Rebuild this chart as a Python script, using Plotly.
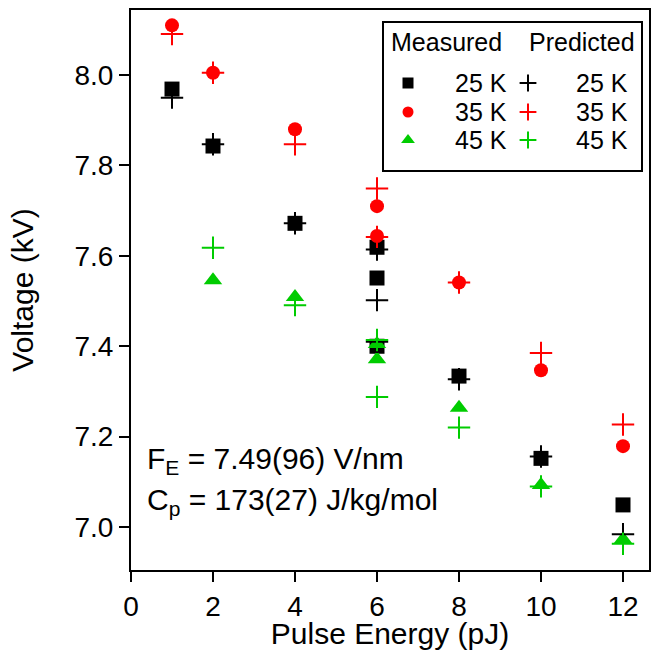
import plotly.graph_objects as go

# ---------------- data ----------------
x_meas_25 = [1, 2, 4, 6, 6, 6, 8, 10, 12]
y_meas_25 = [7.969, 7.843, 7.672, 7.619, 7.551, 7.400, 7.334, 7.152, 7.049]
x_pred_25 = [1, 2, 4, 6, 6, 6, 8, 10, 12]
y_pred_25 = [7.950, 7.847, 7.672, 7.614, 7.502, 7.410, 7.327, 7.156, 6.984]

x_meas_35 = [1, 2, 4, 6, 6, 8, 10, 12]
y_meas_35 = [8.110, 8.005, 7.880, 7.710, 7.644, 7.541, 7.347, 7.179]
x_pred_35 = [1, 2, 4, 6, 6, 8, 10, 12]
y_pred_35 = [8.091, 8.005, 7.847, 7.749, 7.642, 7.541, 7.385, 7.227]

x_meas_45 = [2, 4, 6, 6, 8, 10, 12]
y_meas_45 = [7.546, 7.509, 7.405, 7.371, 7.264, 7.093, 6.973]
x_pred_45 = [2, 4, 6, 6, 8, 10, 12]
y_pred_45 = [7.618, 7.491, 7.414, 7.288, 7.220, 7.090, 6.963]

x_ticks = [0, 2, 4, 6, 8, 10, 12]
y_ticks = [7.0, 7.2, 7.4, 7.6, 7.8, 8.0]
series_labels = ["25 K", "35 K", "45 K"]
fit_lines = ["F<sub>E</sub> = 7.49(96) V/nm", "C<sub>p</sub> = 173(27) J/kg/mol"]

# ---------------- style ----------------
FONT = "Liberation Sans, Arial, sans-serif"
BLACK, RED, GREEN = "#000000", "#FF0000", "#00CC00"
colors = [BLACK, RED, GREEN]
meas_symbols = ["square", "circle", "triangle-up"]
meas_sizes = [15, 14, 16]
PLUS_SIZE = 16

fig = go.Figure()

meas = [(x_meas_25, y_meas_25), (x_meas_35, y_meas_35), (x_meas_45, y_meas_45)]
pred = [(x_pred_25, y_pred_25), (x_pred_35, y_pred_35), (x_pred_45, y_pred_45)]

for (xs, ys), c, s, sz in zip(meas, colors, meas_symbols, meas_sizes):
    fig.add_trace(go.Scatter(x=xs, y=ys, mode="markers",
                             marker=dict(symbol=s, size=sz, color=c, line=dict(width=0)),
                             showlegend=False))
for (xs, ys), c in zip(pred, colors):
    fig.add_trace(go.Scatter(x=xs, y=ys, mode="markers",
                             marker=dict(symbol="cross-thin", size=PLUS_SIZE,
                                         line=dict(width=2, color=c)),
                             showlegend=False))

# ---------------- custom legend (pixel-like overlay axes) ----------------
L, R, T, B = 131, 649, 10, 570
leg_rows_y = [83, 112, 140]
leg_meas_x, leg_text1_x, leg_pred_x, leg_text2_x = 408, 453, 528, 574
leg_sizes = [11, 11, 12]
for i in range(3):
    fig.add_trace(go.Scatter(x=[leg_meas_x], y=[leg_rows_y[i]], xaxis="x2", yaxis="y2",
                             mode="markers",
                             marker=dict(symbol=meas_symbols[i], size=leg_sizes[i],
                                         color=colors[i], line=dict(width=0)),
                             showlegend=False, hoverinfo="skip"))
    fig.add_trace(go.Scatter(x=[leg_pred_x], y=[leg_rows_y[i]], xaxis="x2", yaxis="y2",
                             mode="markers",
                             marker=dict(symbol="cross-thin", size=12,
                                         line=dict(width=2, color=colors[i])),
                             showlegend=False, hoverinfo="skip"))

annotations = []
leg_font = dict(family=FONT, size=25, color="black")
annotations.append(dict(x=389, y=42, xref="x2", yref="y2", text="Measured",
                        showarrow=False, xanchor="left", yanchor="middle", font=leg_font))
annotations.append(dict(x=527, y=42, xref="x2", yref="y2", text="Predicted",
                        showarrow=False, xanchor="left", yanchor="middle", font=leg_font))
for i in range(3):
    for xx in (leg_text1_x, leg_text2_x):
        annotations.append(dict(x=xx, y=leg_rows_y[i], xref="x2", yref="y2",
                                text=series_labels[i], showarrow=False,
                                xanchor="left", yanchor="middle", font=leg_font))
fit_y = [460, 501]
for t, yy in zip(fit_lines, fit_y):
    annotations.append(dict(x=145, y=yy, xref="x2", yref="y2", text=t, showarrow=False,
                            xanchor="left", yanchor="middle",
                            font=dict(family=FONT, size=30, color="black")))

shapes = [dict(type="rect", xref="x2", yref="y2", x0=383, x1=642, y0=22, y1=171,
               line=dict(color="black", width=2), fillcolor="rgba(0,0,0,0)", layer="above")]

axis_common = dict(showline=True, linewidth=2, linecolor="black", mirror=True,
                   ticks="outside", ticklen=10, tickwidth=2, tickcolor="black",
                   showgrid=False, zeroline=False, automargin=False,
                   tickfont=dict(family=FONT, size=28, color="black"))

fig.update_layout(
    width=654, height=650,
    margin=dict(l=L, r=654 - R, t=T, b=650 - B),
    plot_bgcolor="white", paper_bgcolor="white",
    showlegend=False,
    xaxis=dict(range=[0, (R - L) / 41.0], tickvals=x_ticks,
               title=dict(text="Pulse Energy (pJ)", font=dict(family=FONT, size=30, color="black"),
                          standoff=6),
               **axis_common),
    yaxis=dict(range=[6.905, 6.905 + (B - T) / 452.0], tickvals=y_ticks, tickformat=".1f",
               title=dict(text="Voltage (kV)", font=dict(family=FONT, size=30, color="black"),
                          standoff=32),
               **axis_common),
    xaxis2=dict(overlaying="x", range=[L, R], visible=False, fixedrange=True),
    yaxis2=dict(overlaying="y", range=[B, T], visible=False, fixedrange=True),
    annotations=annotations,
    shapes=shapes,
)

fig.write_html("out.html", config={"displayModeBar": False},
               post_script="document.body.style.margin='0';document.body.style.overflow='hidden';")
